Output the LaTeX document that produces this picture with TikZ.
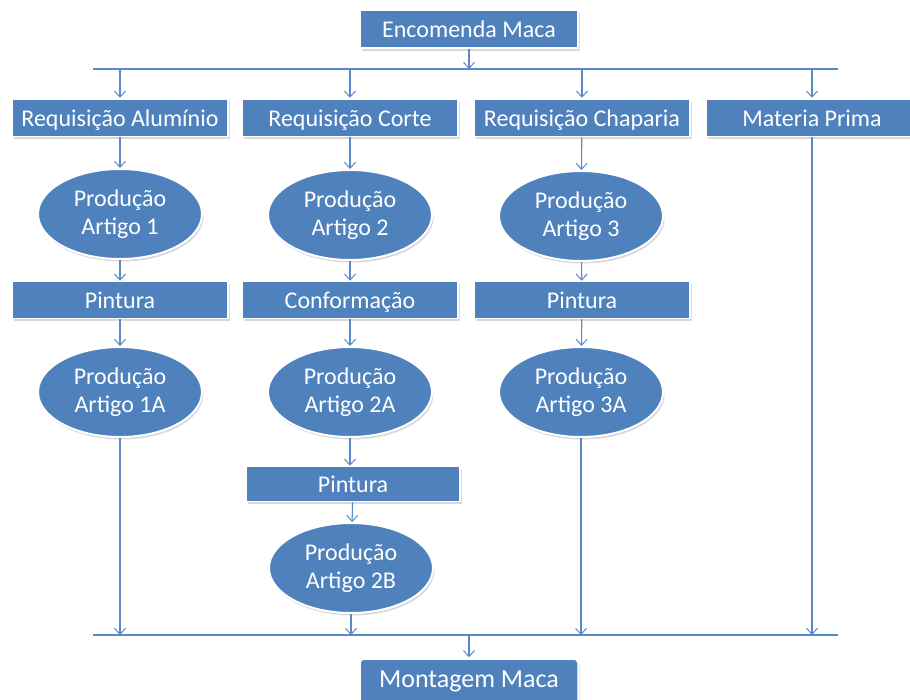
\documentclass[tikz,border=0pt]{standalone}
\usepackage{fontspec}
\setmainfont{Carlito}
\usetikzlibrary{arrows.meta,shapes.geometric,shadows}
\definecolor{officeblue}{HTML}{4F81BD}
\definecolor{linkblue}{HTML}{5A8AC6}
\begin{document}
\begin{tikzpicture}[x=1pt,y=-1pt,
  boxshadow/.style={drop shadow={shadow xshift=1.5pt,shadow yshift=-2.5pt,opacity=0.25,fill=black!60}},
  stepbox/.style={rectangle,fill=officeblue,draw=white,line width=1.5pt,
    minimum width=216pt,minimum height=37pt,inner sep=0pt,text=white,
    text height=18pt,text depth=2pt,
    font=\fontsize{24}{28}\selectfont,boxshadow},
  prodell/.style={ellipse,fill=officeblue,draw=white,line width=2pt,
    minimum width=164pt,minimum height=90pt,inner sep=0pt,text=white,align=center,
    font=\fontsize{24}{27.5}\selectfont,boxshadow},
  arr/.style={draw=linkblue,line width=1.1pt,-{Straight Barb[length=6pt,width=11pt,line width=1pt]}},
  bus/.style={draw=linkblue,line width=1.1pt}]
\useasboundingbox (0,0) rectangle (910,699);

% top and bottom distribution lines
\coordinate (topL) at (93,69);
\coordinate (topR) at (838,69);
\coordinate (botL) at (93,635);
\coordinate (botR) at (838,635);

% order box
\node[stepbox,minimum width=218pt,minimum height=38pt] (enc) at (469,29) {Encomenda Maca};

% requisition row
\node[stepbox] (reqA) at (120,118) {Requisição Alumínio};
\node[stepbox] (reqC) at (350,118) {Requisição Corte};
\node[stepbox] (reqH) at (582,118) {Requisição Chaparia};
\node[stepbox,minimum width=212pt] (mat) at (812,118) {Materia Prima};

% first production row
\node[prodell] (p1) at (120,214) {Produção\\Artigo 1};
\node[prodell] (p2) at (350,215) {Produção\\Artigo 2};
\node[prodell] (p3) at (581,216) {Produção\\Artigo 3};

% finishing row
\node[stepbox] (pin1) at (120,300) {Pintura};
\node[stepbox] (conf) at (350,300) {Conformação};
\node[stepbox] (pin3) at (582,300) {Pintura};

% second production row
\node[prodell] (p1a) at (120,392) {Produção\\Artigo 1A};
\node[prodell] (p2a) at (350,392) {Produção\\Artigo 2A};
\node[prodell] (p3a) at (581,392) {Produção\\Artigo 3A};

% extra branch of article 2
\node[stepbox,minimum width=214pt,minimum height=35pt] (pin2) at (353,484) {Pintura};
\node[prodell] (p2b) at (351,568) {Produção\\Artigo 2B};

% assembly
\node[stepbox,minimum width=218pt,minimum height=46pt,rounded corners=4pt,
  text height=16pt,text depth=6pt,font=\fontsize{26}{30}\selectfont] (mont) at (469,682)
  {Montagem Maca};

% buses
\draw[bus] (topL) -- (topR);
\draw[bus] (botL) -- (botR);

% order to top bus
\draw[arr] (enc.south) -- (enc.south |- topL);

% top bus to requisitions
\foreach \n in {reqA,reqC,reqH,mat}
  \draw[arr] (\n.north |- topL) -- ([yshift=1pt]\n.north);

% column 1
\draw[arr] (reqA) -- (p1);
\draw[arr] (p1) -- (pin1);
\draw[arr] (pin1) -- (p1a);
\draw[arr] (p1a.south) -- (p1a.south |- botL);

% column 2
\draw[arr] (reqC) -- (p2);
\draw[arr] (p2) -- (conf);
\draw[arr] (conf) -- (p2a);
\draw[arr] (p2a) -- (pin2.north -| p2a);
\draw[arr] (pin2) -- (p2b);
\draw[arr] (p2b.south) -- (p2b.south |- botL);

% column 3
\draw[arr] (reqH) -- (p3);
\draw[arr] (p3) -- (pin3);
\draw[arr] (pin3) -- (p3a);
\draw[arr] (p3a.south) -- (p3a.south |- botL);

% raw material straight down
\draw[arr] (mat.south) -- (mat.south |- botL);

% bottom bus to assembly
\draw[arr] (mont.north |- botL) -- ([yshift=1pt]mont.north);
\end{tikzpicture}
\end{document}
